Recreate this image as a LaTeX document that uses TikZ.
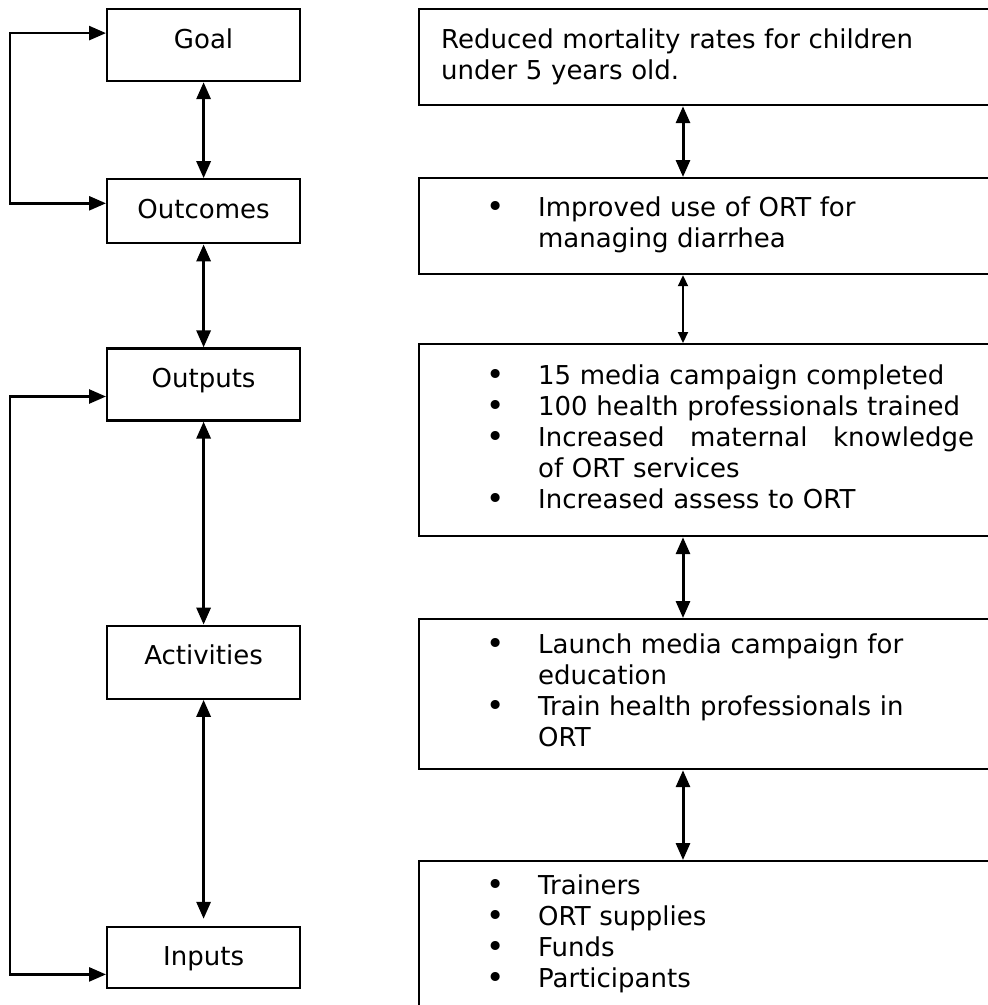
\documentclass[tikz,border=0pt]{standalone}
\usepackage{fontspec}
\setmainfont{DejaVu Sans}
\usetikzlibrary{arrows.meta, positioning}
\newcommand{\bul}{\makebox[97pt][l]{\hspace*{45pt}\raisebox{-1pt}{\fontsize{31}{31}\selectfont\textbullet}}}

\begin{document}
\begin{tikzpicture}[x=1pt, y=-1pt,
  stage/.style={draw, line width=2.2pt, minimum width=193pt, inner sep=0pt, text height=39pt, text depth=#1, font=\fontsize{26}{31}\selectfont},
  detail/.style={draw, line width=2.2pt, anchor=north west, text width=540pt, align=left, inner xsep=22pt, inner ysep=0pt, minimum height=#1, font=\fontsize{26}{31}\selectfont},
  link/.style={{Triangle[length=17pt,width=14pt]}-{Triangle[length=17pt,width=14pt]}, line width=3pt},
  thinlink/.style={{Triangle[length=11pt,width=10pt]}-{Triangle[length=11pt,width=10pt]}, line width=2pt},
  feedback/.style={{Triangle[length=17pt,width=14pt]}-{Triangle[length=17pt,width=14pt]}, line width=2.6pt}]
  \useasboundingbox (0,0) rectangle (988,1005);
  \clip (0,0) rectangle (988,1005);
  % stages on the left
  \node[stage=33pt, anchor=north west] (goal) at (106,8) {Goal};
  \node[stage=25pt, below=96pt of goal] (outcomes) {Outcomes};
  \node[stage=33pt, below=103pt of outcomes] (outputs) {Outputs};
  \node[stage=34pt, below=203pt of outputs] (activities) {Activities};
  \node[stage=22pt, below=226pt of activities] (inputs) {Inputs};
  % details on the right
  \node[detail=96pt] (rgoal) at (418,8) {Reduced mortality rates for children\\under 5 years old.};
  \node[detail=96pt] (routcomes) at (418,177) {\begin{tabular}{@{}l@{}l@{}}
    \bul & Improved use of ORT for\\
         & managing diarrhea
  \end{tabular}};
  \node[detail=192pt] (routputs) at (418,343) {\begin{tabular}{@{}l@{}l@{}}
    \bul & 15 media campaign completed\\
    \bul & 100 health professionals trained\\
    \bul & \hbox to 436pt{Increased\hfill maternal\hfill knowledge}\\
         & of ORT services\\
    \bul & Increased assess to ORT
  \end{tabular}};
  \node[detail=150pt] (ractivities) at (418,618) {\begin{tabular}{@{}l@{}l@{}}
    \bul & Launch media campaign for\\
         & education\\
    \bul & Train health professionals in\\
         & ORT
  \end{tabular}};
  \node[detail=147pt] (rinputs) at (418,860) {\begin{tabular}{@{}l@{}l@{}}
    \bul & Trainers\\
    \bul & ORT supplies\\
    \bul & Funds\\
    \bul & Participants
  \end{tabular}};
  % links
  \draw[link] (goal) -- (outcomes);
  \draw[link] (outcomes) -- (outputs);
  \draw[link] (outputs) -- (activities);
  \draw[link, shorten >=7pt] (activities) -- (inputs);
  \coordinate (rx) at (683,0);
  \draw[link] (rgoal.south -| rx) -- (routcomes.north -| rx);
  \draw[thinlink] (routcomes.south -| rx) -- (routputs.north -| rx);
  \draw[link] (routputs.south -| rx) -- (ractivities.north -| rx);
  \draw[link] (ractivities.south -| rx) -- (rinputs.north -| rx);
  \draw[feedback] ([yshift=12pt]goal.west) -- ++(-96,0) |- ([yshift=8pt]outcomes.west);
  \draw[feedback] ([yshift=-12pt]outputs.west) -- ++(-96,0) |- ([yshift=-17pt]inputs.west);
\end{tikzpicture}
\end{document}
